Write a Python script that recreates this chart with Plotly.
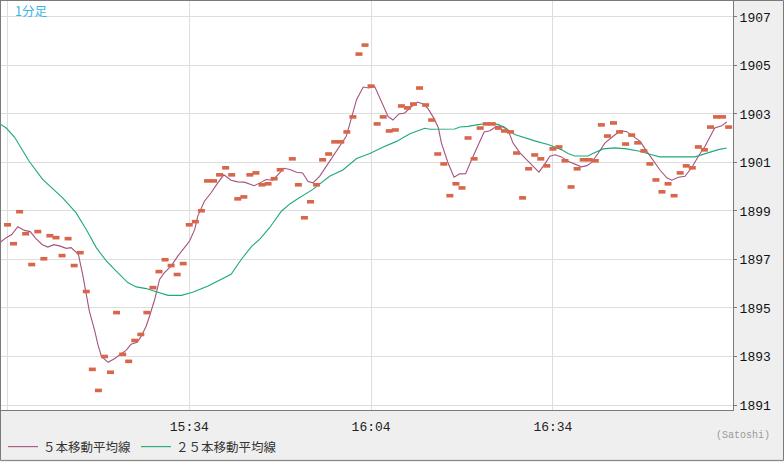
import pandas as pd
import plotly.graph_objects as go

# ---- data ----
start_time = "2024-01-10 15:04"
# 1-minute closes, one per minute starting 15:04 (None = no trade that minute)
close_vals = [
    1898.43, 1897.65, 1898.97, 1898.06, 1896.79, 1898.15, 1897.03, 1897.98, 1897.90, 1897.16,
    1897.86, 1896.75, 1897.28, 1895.68, 1892.47, 1891.60, 1893.00, 1892.35, 1894.81, 1893.09,
    1892.80, 1893.66, 1893.91, 1894.81, 1895.84, 1896.50, 1896.99, 1896.75, 1896.38, 1896.83,
    1898.43, 1898.56, 1899.01, 1900.24, 1900.24, 1900.49, 1900.78, 1900.49, 1899.50, 1899.58,
    1900.49, 1900.57, 1900.08, 1900.12, 1900.33, 1900.70, None, 1901.15, 1900.08, 1898.72,
    1899.38, 1900.08, 1901.11, 1901.35, 1901.85, 1901.85, 1902.26, 1902.88, 1905.47, 1905.84,
    1904.15, 1902.59, 1902.88, 1902.30, 1902.34, 1903.33, 1903.25, 1903.41, 1904.07, 1903.37,
    1902.75, 1901.35, 1900.94, 1899.63, 1900.12, 1899.95, 1902.01, 1901.15, 1902.42, 1902.59,
    1902.59, 1902.42, 1902.30, 1902.26, 1901.39, 1899.54, 1900.74, 1901.31, 1901.15, 1900.86,
    1901.56, 1901.64, 1901.07, 1899.99, 1900.74, 1901.11, 1901.11, 1901.07, 1902.55, 1902.09,
    1902.63, 1902.26, 1901.76, 1902.13, 1901.81, 1901.48, 1900.94, 1900.28, 1899.79, 1900.12,
    1899.63, 1900.57, 1900.86, 1900.78, 1901.64, 1901.52, 1902.46, 1902.88, 1902.88, 1902.46,
]

# 5-period moving average: minutes after 15:04 and values
ma5_min = [
    -1.3, -0.2, 0.7, 1.7, 2.8, 3.75, 4.7, 5.7, 6.65, 7.65,
    8.7, 9.7, 10.5, 11.7, 12.4, 13.1, 13.5, 14.4, 14.9, 15.5,
    16.6, 17.7, 18.6, 19.6, 20.4, 21.4, 22.1, 22.9, 23.45, 24.3,
    25.1, 25.9, 27.0, 28.1, 29.2, 30.05, 30.9, 31.4, 32.5, 33.6,
    34.7, 35.7, 36.9, 38.0, 39.1, 40.7, 41.9, 42.7, 43.8, 44.6,
    45.6, 46.6, 47.7, 48.7, 49.6, 50.4, 51.5, 52.6, 53.7, 54.8,
    55.9, 56.75, 57.6, 58.7, 59.6, 60.6, 61.4, 62.25, 62.8, 63.6,
    64.6, 65.55, 66.7, 67.65, 68.6, 69.4, 70.3, 71.1, 71.6, 72.7,
    73.7, 74.6, 75.6, 76.6, 77.7, 78.65, 79.6, 80.7, 81.8, 82.6,
    83.4, 84.5, 85.65, 86.7, 87.7, 88.6, 89.5, 90.4, 91.4, 92.5,
    93.6, 94.7, 95.6, 96.3, 97.5, 98.6, 99.95, 101.1, 102.2, 103.25,
    104.4, 105.5, 106.6, 107.7, 108.8, 109.6, 110.7, 111.8, 112.9, 114.0,
    115.1, 115.9, 116.7, 117.85, 118.7,
]
ma5_vals = [
    1897.69, 1897.90, 1898.03, 1898.35, 1898.20, 1898.15, 1897.86, 1897.62, 1897.51, 1897.61,
    1897.55, 1897.46, 1897.49, 1897.21, 1896.39, 1895.44, 1894.88, 1894.06, 1893.51, 1893.00,
    1892.76, 1892.92, 1893.07, 1893.26, 1893.51, 1893.59, 1893.85, 1894.26, 1894.67, 1895.36,
    1896.18, 1896.46, 1896.73, 1897.14, 1897.49, 1897.76, 1898.24, 1898.79, 1899.40, 1899.75,
    1900.16, 1900.49, 1900.27, 1900.20, 1900.19, 1900.04, 1900.19, 1900.30, 1900.27, 1900.50,
    1900.76, 1900.71, 1900.60, 1900.57, 1900.21, 1900.16, 1900.43, 1900.84, 1901.26, 1901.67,
    1902.08, 1902.83, 1903.59, 1904.11, 1904.07, 1904.13, 1903.66, 1903.18, 1902.90, 1902.75,
    1903.00, 1903.04, 1903.31, 1903.49, 1903.41, 1903.22, 1902.85, 1902.43, 1901.81, 1900.98,
    1900.39, 1900.53, 1900.54, 1901.12, 1901.74, 1902.26, 1902.31, 1902.49, 1902.49, 1902.35,
    1901.81, 1901.42, 1901.12, 1900.84, 1900.60, 1900.91, 1901.26, 1901.32, 1901.23, 1901.05,
    1900.94, 1900.82, 1900.87, 1900.98, 1901.39, 1901.81, 1902.08, 1902.31, 1902.27, 1902.08,
    1901.87, 1901.46, 1901.05, 1900.68, 1900.37, 1900.27, 1900.39, 1900.43, 1900.78, 1901.26,
    1901.67, 1902.08, 1902.42, 1902.51, 1902.67,
]

# 25-period moving average: minutes after 15:04 and values
ma25_min = [
    -1.3, -0.2, 1.15, 3.6, 5.8, 9.1, 11.3, 13.0, 14.65, 16.3,
    17.95, 19.85, 21.25, 22.9, 24.55, 26.5, 28.7, 30.55, 33.1, 35.0,
    36.9, 38.6, 40.25, 41.6, 43.25, 45.2, 46.6, 47.7, 48.75, 50.4,
    53.15, 55.35, 57.6, 59.8, 62.0, 64.2, 66.4, 68.85, 69.7, 73.8,
    74.65, 76.0, 77.65, 79.05, 80.95, 82.05, 83.7, 85.35, 87.0, 89.2,
    91.4, 92.5, 93.6, 95.8, 96.4, 98.3, 100.2, 102.15, 104.35, 106.3,
    107.65, 113.45, 115.1, 117.3, 118.7,
]
ma25_vals = [
    1902.60, 1902.42, 1902.05, 1901.04, 1900.30, 1899.54, 1898.93, 1898.24, 1897.49, 1896.94,
    1896.52, 1896.05, 1895.87, 1895.80, 1895.67, 1895.52, 1895.52, 1895.65, 1895.91, 1896.15,
    1896.39, 1897.01, 1897.53, 1897.83, 1898.31, 1898.99, 1899.29, 1899.47, 1899.64, 1899.89,
    1900.43, 1900.69, 1901.16, 1901.37, 1901.64, 1901.87, 1902.18, 1902.41, 1902.37, 1902.38,
    1902.46, 1902.49, 1902.56, 1902.61, 1902.57, 1902.42, 1902.15, 1902.01, 1901.89, 1901.74,
    1901.53, 1901.37, 1901.27, 1901.27, 1901.35, 1901.56, 1901.60, 1901.56, 1901.46, 1901.32,
    1901.23, 1901.23, 1901.37, 1901.53, 1901.60,
]

y_ticks = [1891, 1893, 1895, 1897, 1899, 1901, 1903, 1905, 1907]
x_tick_minutes = [0, 30, 60, 90]
x_tick_text = ["", "15:34", "16:04", "16:34"]
series_names = ["５本移動平均線", "２５本移動平均線"]
chart_title = "1分足"
source_note = "(Satoshi)"

# ---- build ----
base = pd.Timestamp(start_time)
close_t = [base + pd.Timedelta(minutes=i) for i in range(len(close_vals))]
ma5_t = [base + pd.Timedelta(minutes=m) for m in ma5_min]
ma25_t = [base + pd.Timedelta(minutes=m) for m in ma25_min]
tick_t = [base + pd.Timedelta(minutes=m) for m in x_tick_minutes]

C_MA5 = "#a5527f"
C_MA25 = "#1fa97a"
C_DOT = "#d8664b"

fig = go.Figure()
fig.add_trace(go.Scatter(x=ma5_t, y=ma5_vals, mode="lines", name=series_names[0],
                         line=dict(color=C_MA5, width=1.1)))
fig.add_trace(go.Scatter(x=ma25_t, y=ma25_vals, mode="lines", name=series_names[1],
                         line=dict(color=C_MA25, width=1.1)))
fig.add_trace(go.Scatter(x=close_t, y=close_vals, mode="markers", showlegend=False,
                         marker=dict(symbol="line-ew", size=5,
                                     line=dict(color=C_DOT, width=3.6))))

W, H = 784, 462
L, R, T, B = 1, 51, 1, 51
pw, ph = W - L - R, H - T - B

x_lo = base + pd.Timedelta(minutes=-1.07)
x_hi = base + pd.Timedelta(minutes=119.72)

fig.update_layout(
    width=W, height=H,
    margin=dict(l=L, r=R, t=T, b=B),
    paper_bgcolor="#efefef",
    plot_bgcolor="#ffffff",
    showlegend=True,
    legend=dict(orientation="h", x=(3 - L) / pw, xanchor="left",
                y=(T + ph - 447) / ph, yanchor="middle",
                font=dict(family="Noto Sans CJK JP", size=12.5, color="#333333"),
                bgcolor="rgba(0,0,0,0)", itemwidth=30, tracegroupgap=0),
    xaxis=dict(type="date", range=[x_lo, x_hi], tickvals=tick_t, ticktext=x_tick_text,
               showgrid=True, gridcolor="#dedede", gridwidth=1,
               showline=True, linecolor="#7a7a7a", linewidth=1, mirror=True,
               ticks="", zeroline=False, ticklabelstandoff=4,
               tickfont=dict(family="Liberation Mono", size=13, color="#222222")),
    yaxis=dict(range=[1890.794, 1907.658], side="right", tickvals=y_ticks,
               showgrid=True, gridcolor="#dedede", gridwidth=1,
               showline=True, linecolor="#7a7a7a", linewidth=1, mirror=True,
               ticks="outside", ticklen=3, tickcolor="#7a7a7a", zeroline=False,
               tickfont=dict(family="Liberation Mono", size=13, color="#111111")),
    annotations=[
        dict(text=chart_title, xref="paper", yref="paper",
             x=(13 - L) / pw, y=1 - (11 - T) / ph, xanchor="left", yanchor="middle",
             showarrow=False, font=dict(family="Noto Sans CJK JP", size=12.5, color="#3ab4e8")),
        dict(text=source_note, xref="paper", yref="paper",
             x=(772 - L) / pw, y=(T + ph - 437) / ph, xanchor="right", yanchor="middle",
             showarrow=False, font=dict(family="Liberation Mono", size=10, color="#999999")),
    ],
    shapes=[
        dict(type="rect", xref="paper", yref="paper",
             x0=(0.5 - L) / pw, x1=(W - 0.5 - L) / pw,
             y0=(T + ph - (H - 0.5)) / ph, y1=(T + ph - 0.5) / ph,
             line=dict(color="#7a7a7a", width=1), fillcolor="rgba(0,0,0,0)", layer="above"),
    ],
)

fig.write_html("out.html")
